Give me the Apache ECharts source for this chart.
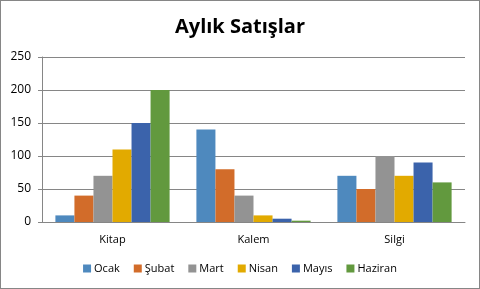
<!DOCTYPE html>
<html>
<head>
<meta charset="utf-8">
<script src="https://cdn.jsdelivr.net/npm/echarts@6/dist/echarts.min.js"></script>
<style>
  html, body { margin: 0; padding: 0; background: #fff; }
  #chart { width: 478px; height: 287px; border: 1px solid #868686; }
</style>
</head>
<body>
<div id="chart"></div>
<script>
const categories = ["Kitap", "Kalem", "Silgi"];
const seriesNames = ["Ocak", "Şubat", "Mart", "Nisan", "Mayıs", "Haziran"];
const seriesValues = [
  [10, 140, 70],
  [40, 80, 50],
  [70, 40, 100],
  [110, 10, 70],
  [150, 5, 90],
  [200, 2, 60],
];
const colors = ["#4E89BE", "#D26C2A", "#939393", "#E2AA00", "#3B63AB", "#62993E"];

const chart = echarts.init(document.getElementById("chart"));

chart.setOption({
  animation: false,
  color: colors,
  title: {
    text: "Aylık Satışlar",
    left: "center",
    top: 11,
    textStyle: { fontFamily: "Open Sans", fontWeight: "bold", fontSize: 20, color: "#000" },
  },
  legend: {
    bottom: 9,
    itemWidth: 8,
    itemHeight: 8,
    itemGap: 14,
    icon: "rect",
    textStyle: { fontFamily: "Open Sans", fontSize: 11, color: "#000", padding: [0, 0, 0, -2] },
    data: seriesNames,
  },
  grid: { left: 41, right: 14, top: 56, bottom: 66 },
  xAxis: {
    type: "category",
    data: categories,
    axisLine: { lineStyle: { color: "#868686" } },
    axisTick: { length: 4, lineStyle: { color: "#868686" } },
    axisLabel: { fontFamily: "Open Sans", fontSize: 11, color: "#000", margin: 12 },
  },
  yAxis: {
    type: "value",
    min: 0,
    max: 250,
    interval: 50,
    axisLine: { show: true, lineStyle: { color: "#868686" } },
    axisTick: { show: true, length: 4, lineStyle: { color: "#868686" } },
    axisLabel: { fontFamily: "Open Sans", fontSize: 12, color: "#000", margin: 11 },
    splitLine: { lineStyle: { color: "#868686" } },
  },
  series: seriesNames.map((name, i) => ({
    name,
    type: "bar",
    data: seriesValues[i],
    barGap: "0%",
    barCategoryGap: "19%",
  })),
});
</script>
</body>
</html>
